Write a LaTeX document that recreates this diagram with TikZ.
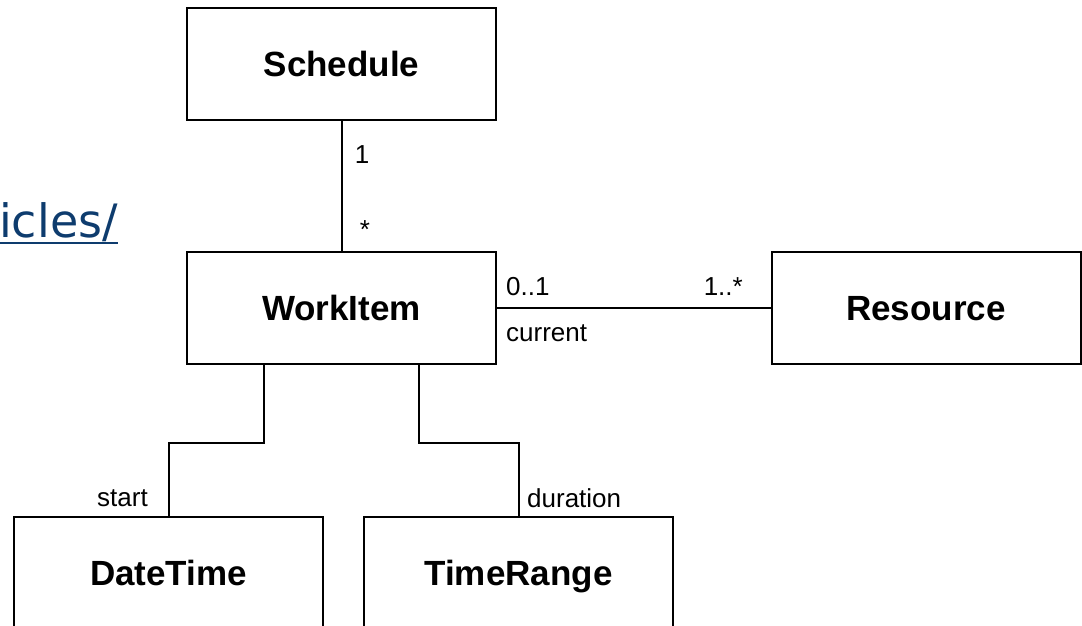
\documentclass[tikz,border=0pt]{standalone}
\usepackage{fontspec}
\setmainfont{Liberation Sans}
\newfontfamily\linkfont{DejaVu Sans}
\usetikzlibrary{calc}
\definecolor{linkblue}{HTML}{0E3C6E}

\tikzset{
  umlclass/.style={draw, line width=2pt, minimum width=309pt, minimum height=112pt,
    inner sep=0pt, text depth=0pt, font=\fontsize{35}{40}\selectfont\bfseries},
  role/.style={inner sep=0pt, font=\fontsize{26}{30}\selectfont},
  assoc/.style={line width=2pt},
}

\begin{document}
\begin{tikzpicture}[x=1pt, y=-1pt]
    \useasboundingbox (0,0) rectangle (1082,626);

    % partial link text on the left
    \node[anchor=base west, inner sep=0pt, text=linkblue, font=\linkfont\fontsize{46}{50}\selectfont] (link) at (-1,237) {icles/};
    \draw[linkblue, line width=2pt] ([yshift=-6pt]link.base west) -- ([yshift=-6pt]link.base east);

    % classes
    \node[umlclass] (schedule) at (341.5,64) {Schedule};
    \node[umlclass] (workitem) at (341.5,308) {WorkItem};
    \node[umlclass] (resource) at (926,308) {Resource};
    \node[umlclass] (datetime) at (168.5,572.5) {DateTime};
    \node[umlclass] (timerange) at (518.5,572.5) {TimeRange};

    % associations
    \draw[assoc] (schedule.south) -- (workitem.north);
    \draw[assoc] (workitem.east) -- (resource.west);
    \coordinate (wl) at ($(workitem.south west)!0.25!(workitem.south east)$);
    \coordinate (wr) at ($(workitem.south west)!0.75!(workitem.south east)$);
    \draw[assoc] (wl) -- ++(0,78) -| (datetime.north);
    \draw[assoc] (wr) -- ++(0,78) -| (timerange.north);

    % multiplicities and roles
    \node[role] (m1) at (362,155) {1};
    \node[role] (m2) at (365,230) {*};
    \node[role, anchor=west] (m3) at (506,287) {0..1};
    \node[role, anchor=east] (m4) at (743,287) {1..*};
    \node[role, anchor=west] (rcur) at (506,333) {current};
    \node[role, anchor=east] (rstart) at (148,498) {start};
    \node[role, anchor=west] (rdur) at (527,498) {duration};
\end{tikzpicture}
\end{document}
